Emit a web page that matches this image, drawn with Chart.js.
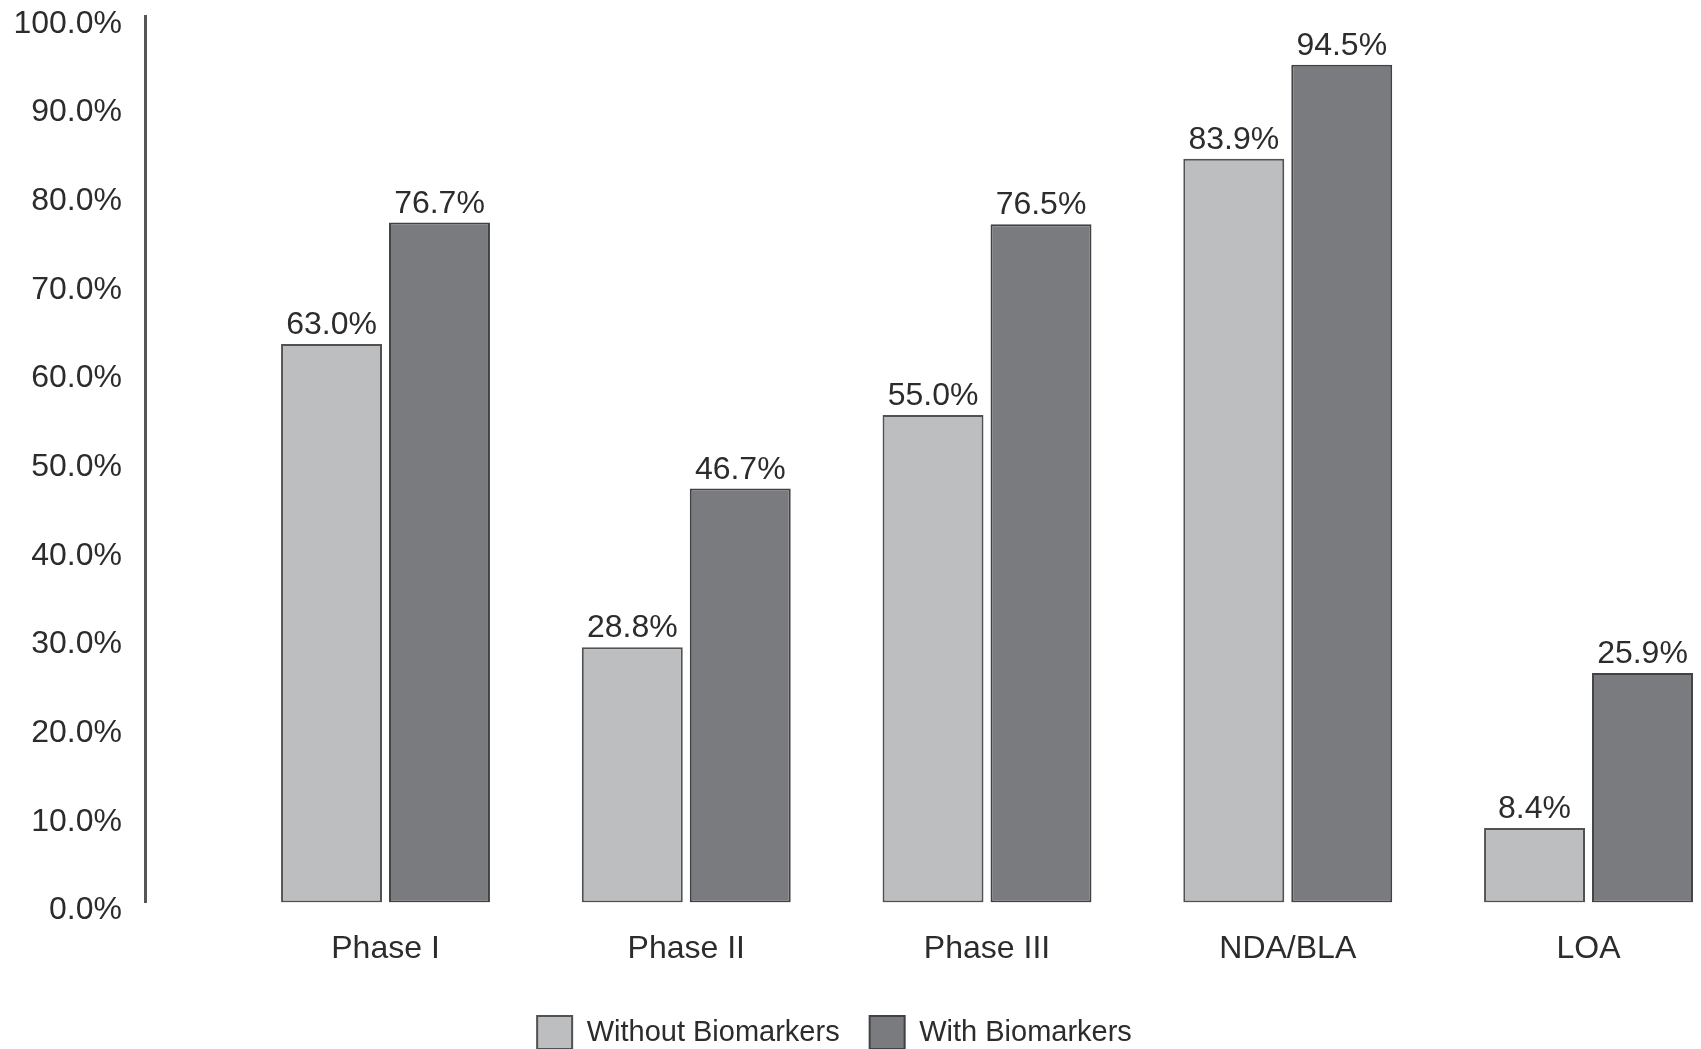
<!DOCTYPE html>
<html>
<head>
<meta charset="utf-8">
<title>Success rates with and without biomarkers</title>
<script src="https://cdn.jsdelivr.net/npm/chart.js@4.4.1/dist/chart.umd.min.js"></script>
<style>
  html, body { margin: 0; padding: 0; background: #ffffff; overflow: hidden; }
  canvas { display: block; }
</style>
</head>
<body>
<canvas id="chart" width="1701" height="1049"></canvas>
<script>
// Phase-by-phase success rates (%)
const categories = ['Phase I', 'Phase II', 'Phase III', 'NDA/BLA', 'LOA'];
const withoutBiomarkers = [63.0, 28.8, 55.0, 83.9, 8.4];
const withBiomarkers = [76.7, 46.7, 76.5, 94.5, 25.9];
const seriesNames = ['Without Biomarkers', 'With Biomarkers'];
const yTickStep = 10;
const yMax = 100;

const FONT = '"Liberation Sans", Arial, Helvetica, sans-serif';
const TEXT = '#2c2c2c';

Chart.defaults.font.family = FONT;
Chart.defaults.color = TEXT;

const toPoints = arr => arr.map((v, i) => ({ x: i, y: v }));

// Writes each bar's value just above it
const valueLabels = {
  id: 'valueLabels',
  afterDatasetsDraw(chart) {
    const ctx = chart.ctx;
    ctx.save();
    ctx.font = '32px ' + FONT;
    ctx.fillStyle = TEXT;
    ctx.textAlign = 'center';
    ctx.textBaseline = 'alphabetic';
    chart.data.datasets.forEach((ds, di) => {
      chart.getDatasetMeta(di).data.forEach((bar, i) => {
        ctx.fillText(ds.data[i].y.toFixed(1) + '%', bar.x, bar.y - 10);
      });
    });
    ctx.restore();
  }
};

// Nudges the legend row a little left of the canvas centre
const legendShift = {
  id: 'legendShift',
  afterLayout(chart) {
    const lg = chart.legend;
    if (lg) { lg.left -= 16; lg.right -= 16; }
  }
};

new Chart(document.getElementById('chart'), {
  type: 'bar',
  data: {
    datasets: [
      {
        label: seriesNames[0],
        data: toPoints(withoutBiomarkers),
        backgroundColor: '#bdbec0',
        borderColor: '#505153',
        borderWidth: 2,
        borderSkipped: false
      },
      {
        label: seriesNames[1],
        data: toPoints(withBiomarkers),
        backgroundColor: '#7a7b7e',
        borderColor: '#414244',
        borderWidth: 2,
        borderSkipped: false
      }
    ]
  },
  options: {
    responsive: false,
    animation: false,
    categoryPercentage: 0.718,
    barPercentage: 0.935,
    layout: { padding: { top: 16, left: 0, right: 0, bottom: 0 } },
    scales: {
      x: {
        type: 'linear',
        offset: false,
        min: -0.7997,
        max: 4.374,
        grid: { display: false, drawTicks: false },
        border: { display: false },
        ticks: {
          autoSkip: false,
          maxRotation: 0,
          padding: 27,
          color: TEXT,
          font: { size: 32 },
          callback: v => categories[v] ?? ''
        },
        afterBuildTicks: s => { s.ticks = categories.map((_, i) => ({ value: i })); },
        afterFit: s => { s.height = 83.5; s.paddingLeft = 0; s.paddingRight = 0; }
      },
      y: {
        min: 0,
        max: yMax,
        grid: { display: false, drawTicks: false },
        border: { display: true, color: '#555658', width: 3 },
        ticks: {
          stepSize: yTickStep,
          padding: 23,
          labelOffset: 8,
          color: TEXT,
          font: { size: 32 },
          callback: v => v.toFixed(1) + '%'
        },
        afterFit: s => { s.width = 145; s.paddingTop = 0; s.paddingBottom = 0; }
      }
    },
    plugins: {
      tooltip: { enabled: false },
      legend: {
        position: 'bottom',
        maxHeight: 63,
        labels: {
          boxWidth: 35,
          boxHeight: 33,
          padding: 30,
          color: TEXT,
          font: { size: 29 }
        }
      }
    }
  },
  plugins: [valueLabels, legendShift]
});
</script>
</body>
</html>
